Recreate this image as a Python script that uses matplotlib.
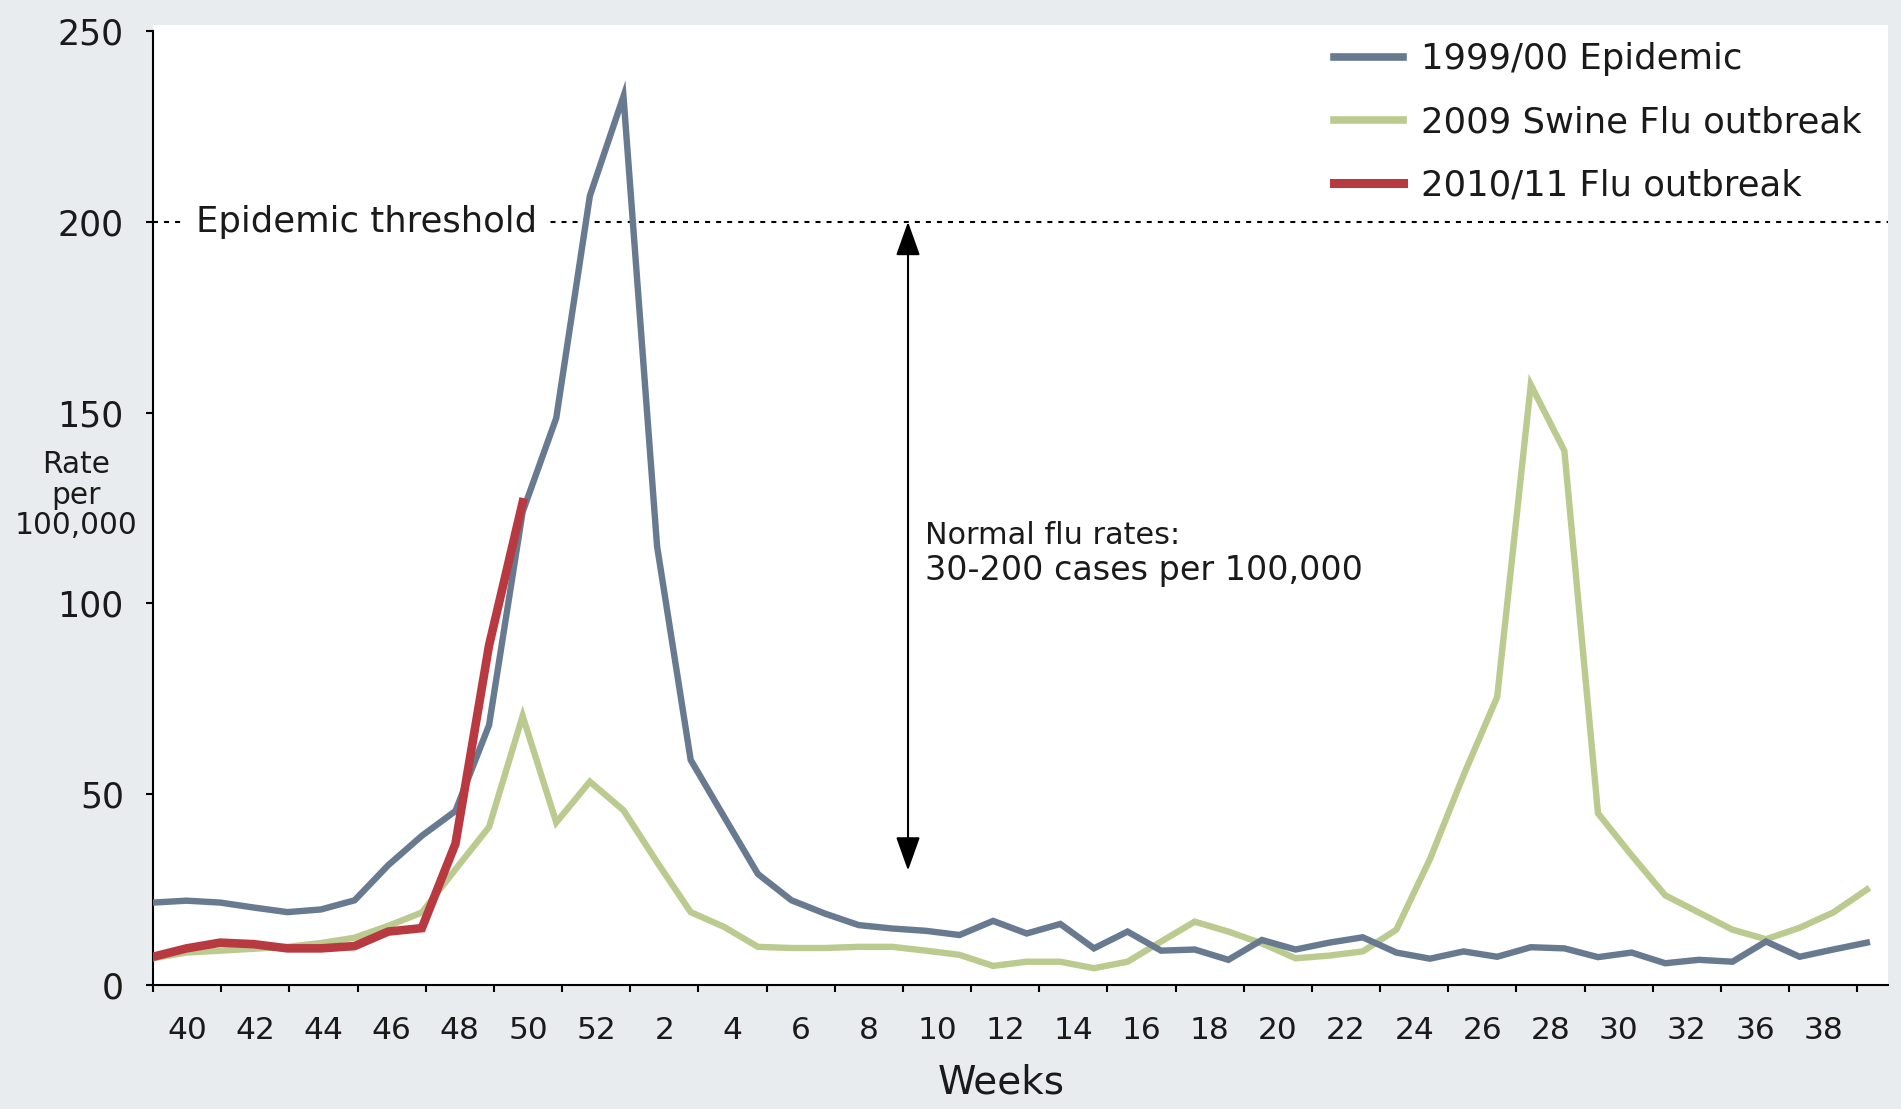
import matplotlib
matplotlib.use("Agg")
import matplotlib.pyplot as plt
from matplotlib.lines import Line2D

# Weekly GP consultation rates for influenza-like illness (per 100,000),
# season running from week 39 to week 38 of the following year.
weeks = [39, 40, 41, 42, 43, 44, 45, 46, 47, 48, 49, 50, 51, 52,
         1, 2, 3, 4, 5, 6, 7, 8, 9, 10, 11, 12, 13, 14, 15, 16, 17, 18, 19,
         20, 21, 22, 23, 24, 25, 26, 27, 28, 29, 30, 31, 32, 33, 34, 35, 36,
         37, 38]

epidemic_1999 = [21.6, 22.1, 21.6, 20.3, 19.1, 19.8, 22.2, 31.4, 39.1, 45.6,
                 68.1, 124.0, 148.6, 206.8, 232.9, 115.0, 59.0, 44.0, 29.1,
                 22.2, 18.7, 15.7, 14.8, 14.2, 13.1, 16.8, 13.5, 16.0, 9.6,
                 14.0, 9.0, 9.3, 6.6, 11.8, 9.3, 11.1, 12.5, 8.5, 6.9, 8.8,
                 7.4, 9.9, 9.6, 7.3, 8.5, 5.7, 6.6, 6.1, 11.4, 7.4, 9.3, 11.1]

swine_2009 = [7.0, 8.5, 9.0, 9.5, 10.0, 11.0, 12.4, 15.5, 19.0, 30.3, 41.4,
              70.5, 42.6, 53.3, 45.8, 32.2, 19.1, 15.2, 10.0, 9.7, 9.7, 10.0,
              10.0, 9.0, 7.9, 5.0, 6.1, 6.1, 4.4, 6.1, 11.4, 16.6, 14.0, 10.9,
              7.0, 7.7, 8.8, 14.5, 33.0, 55.0, 75.5, 157.3, 140.0, 45.0, 34.0,
              23.5, 19.0, 14.5, 12.0, 15.0, 19.0, 25.0]

flu_2010 = [7.4, 9.6, 11.1, 10.7, 9.6, 9.6, 10.2, 14.0, 14.9, 37.0, 89.0,
            126.5]

week_labels = ["40", "42", "44", "46", "48", "50", "52", "2", "4", "6", "8",
               "10", "12", "14", "16", "18", "20", "22", "24", "26", "28",
               "30", "32", "36", "38"]

threshold = 200
normal_low = 30

BLUE = "#687a90"
GREEN = "#bbcb8f"
RED = "#b83a40"
BG = "#e8ecef"
INK = "#1a1a1a"

W, H = 1901, 1109
fig = plt.figure(figsize=(W / 100, H / 100), dpi=100, facecolor=BG)

left, right, bottom, top = 153, 1888, 985, 25
ax = fig.add_axes([left / W, 1 - bottom / H, (right - left) / W,
                   (bottom - top) / H])
ax.set_facecolor("white")

# category axis: one tick every two weeks, labels centred between ticks
n_groups = len(week_labels)
ax.set_xlim(0, 50.9)
ax.set_ylim(0, 251.6)
ax.set_xticks(range(0, 2 * n_groups + 1, 2))
ax.set_xticklabels([])
ax.set_xticks([2 * k + 1 for k in range(n_groups)], minor=True)
ax.set_xticklabels(week_labels, minor=True)
ax.tick_params(axis="x", which="major", direction="out", length=5,
               width=1.5, color="black")
ax.tick_params(axis="x", which="minor", length=0, pad=22.5, labelsize=22.5,
               labelcolor=INK)

ax.set_yticks(range(0, 251, 50))
ax.tick_params(axis="y", direction="out", length=5, width=1.5, pad=16,
               labelsize=25, labelcolor=INK)

for side in ("top", "right"):
    ax.spines[side].set_visible(False)
ax.spines["left"].set_bounds(0, 250)
ax.spines["left"].set_linewidth(1.5)
ax.spines["bottom"].set_linewidth(1.5)

# epidemic threshold
ax.axhline(threshold, color="black", lw=1.5, dashes=(2.4, 2.9), zorder=1)
ax.text(1.26, threshold, "Epidemic threshold", fontsize=25.5, color=INK,
        ha="left", va="center", zorder=2,
        bbox=dict(boxstyle="square,pad=0.35", fc="white", ec="none"))

# range of normal flu rates
ax.annotate("", xy=(22.15, threshold), xytext=(22.15, normal_low),
            arrowprops=dict(arrowstyle="<|-|>,head_length=2.1,head_width=0.75",
                            color="black", lw=1.5, shrinkA=0, shrinkB=0),
            zorder=2)
ax.text(22.65, 117.8, "Normal flu rates:", fontsize=21.8, color=INK,
        ha="left", va="center")
ax.text(22.65, 108.6, "30-200 cases per 100,000", fontsize=24, color=INK,
        ha="left", va="center")

# weekly series on their own x scale (one step per week)
axd = ax.twiny()
axd.set_xlim(0, 51.63)
axd.set_ylim(ax.get_ylim())
axd.axis("off")
xpos = list(range(len(weeks)))
axd.plot(xpos, swine_2009, color=GREEN, lw=4.6, solid_joinstyle="miter",
         zorder=3)
axd.plot(xpos, epidemic_1999, color=BLUE, lw=4.6, solid_joinstyle="miter",
         zorder=4)
axd.plot(xpos[:len(flu_2010)], flu_2010, color=RED, lw=6.2,
         solid_joinstyle="miter", zorder=5)

handles = [Line2D([], [], color=BLUE, lw=5.5),
           Line2D([], [], color=GREEN, lw=5.5),
           Line2D([], [], color=RED, lw=6.5)]
labels = ["1999/00 Epidemic", "2009 Swine Flu outbreak",
          "2010/11 Flu outbreak"]
fig.legend(handles, labels, loc="upper left",
           bbox_to_anchor=(1334 / W, 1 - 42 / H), frameon=False,
           fontsize=25.5, handlelength=1.95, handletextpad=0.5,
           labelspacing=0.83, borderpad=0, borderaxespad=0,
           labelcolor=INK)

fig.text(76 / W, 1 - 495 / H, "Rate\nper\n100,000", fontsize=21.3,
         color=INK, ha="center", va="center", multialignment="center",
         linespacing=1.08)
fig.text(1001 / W, 1 - 1083 / H, "Weeks", fontsize=28, color=INK,
         ha="center", va="center")

fig.savefig("out.png", dpi=100, facecolor=BG)
